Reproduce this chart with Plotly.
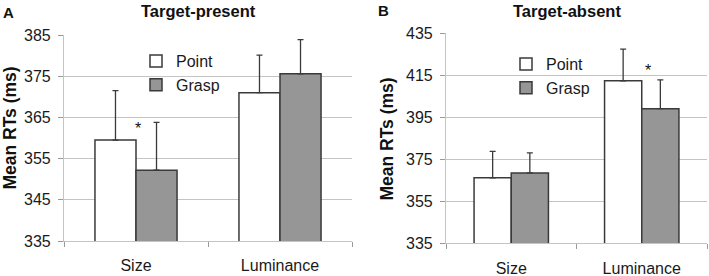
import plotly.graph_objects as go

# ---- data ----
categories = ["Size", "Luminance"]
series_names = ["Point", "Grasp"]
present_point = [359.5, 371.0]
present_point_err = [12.0, 9.1]
present_grasp = [352.2, 375.6]
present_grasp_err = [11.6, 8.3]
absent_point = [366.2, 412.4]
absent_point_err = [12.6, 15.1]
absent_grasp = [368.5, 399.1]
absent_grasp_err = [9.6, 13.7]
present_ticks = [335, 345, 355, 365, 375, 385]
absent_ticks = [335, 355, 375, 395, 415, 435]
present_sig = [("Size", 362.3)]
absent_sig = [("Luminance", 417.2)]

# ---- style ----
W, H = 709, 276
FONT = "Liberation Sans, Arial, sans-serif"
EDGE = "#3a3a3a"
GRID = "#c4c4c4"
FILLS = ["#ffffff", "#969696"]


def px_x(p):
    return p / W


def px_y(p):
    return (H - p) / H


fig = go.Figure()

panels = [
    ("x", "y", "legend", [present_point, present_grasp], [present_point_err, present_grasp_err]),
    ("x2", "y2", "legend2", [absent_point, absent_grasp], [absent_point_err, absent_grasp_err]),
]
for xa, ya, lg, vals, errs in panels:
    for name, v, e, fill in zip(series_names, vals, errs, FILLS):
        fig.add_trace(go.Bar(
            x=categories, y=v, name=name, xaxis=xa, yaxis=ya, legend=lg,
            marker=dict(color=fill, line=dict(color=EDGE, width=1.5)),
            error_y=dict(type="data", symmetric=False, array=e,
                         arrayminus=[0] * len(e), color=EDGE,
                         thickness=1.3, width=3),
        ))

axis_common = dict(
    showline=True, linecolor=GRID, linewidth=1.2, automargin=False,
    tickfont=dict(family=FONT, size=16, color="#1a1a1a"),
    ticks="outside", tickcolor="#9a9a9a", ticklen=5, tickwidth=1.2,
    zeroline=False,
)

fig.update_layout(
    width=W, height=H,
    margin=dict(l=0, r=0, t=0, b=0, autoexpand=False),
    paper_bgcolor="white", plot_bgcolor="white",
    barmode="group", bargap=0.43, bargroupgap=0,
    font=dict(family=FONT, size=16, color="#1a1a1a"),
    xaxis=dict(domain=[px_x(64), px_x(352)], anchor="y", range=[-0.5, 1.5],
               tickson="boundaries", showgrid=False, ticklabelstandoff=10,
               **axis_common),
    yaxis=dict(domain=[px_y(241), px_y(35)], anchor="x", range=[335, 385],
               tickvals=present_ticks, showgrid=True, gridcolor=GRID,
               gridwidth=1.2, ticklabelstandoff=4, **axis_common),
    xaxis2=dict(domain=[px_x(446), px_x(707)], anchor="y2", range=[-0.5, 1.5],
                tickson="boundaries", showgrid=False, ticklabelstandoff=10,
                **axis_common),
    yaxis2=dict(domain=[px_y(243.3), px_y(33.3)], anchor="x2", range=[335, 435],
                tickvals=absent_ticks, showgrid=True, gridcolor=GRID,
                gridwidth=1.2, ticklabelstandoff=4, **axis_common),
    legend=dict(x=px_x(136), y=px_y(44), xanchor="left", yanchor="top",
                bgcolor="rgba(0,0,0,0)", font=dict(family=FONT, size=16),
                itemwidth=30, tracegroupgap=0),
    legend2=dict(x=px_x(506), y=px_y(47), xanchor="left", yanchor="top",
                 bgcolor="rgba(0,0,0,0)", font=dict(family=FONT, size=16),
                 itemwidth=30, tracegroupgap=0),
    showlegend=True,
)

annotations = [
    dict(text="<b>A</b>", x=px_x(8), y=px_y(12.5), font=dict(size=15)),
    dict(text="<b>B</b>", x=px_x(383), y=px_y(10.5), font=dict(size=15)),
    dict(text="<b>Target-present</b>", x=px_x(198), y=px_y(11), font=dict(size=16.5)),
    dict(text="<b>Target-absent</b>", x=px_x(567), y=px_y(11), font=dict(size=16.5)),
    dict(text="<b>Mean RTs (ms)</b>", x=px_x(9), y=px_y(128.5), textangle=-90,
         font=dict(size=17.5)),
    dict(text="<b>Mean RTs (ms)</b>", x=px_x(386), y=px_y(139.5), textangle=-90,
         font=dict(size=17.5)),
]
for a in annotations:
    a.update(xref="paper", yref="paper", showarrow=False,
             xanchor="center", yanchor="middle")
    a["font"].update(family=FONT, color="#111111")
    fig.add_annotation(**a)

for cat, val in present_sig:
    fig.add_annotation(text="*", x=cat, y=val, xref="x", yref="y",
                       showarrow=False, xshift=2,
                       font=dict(family=FONT, size=16, color="#111111"))
for cat, val in absent_sig:
    fig.add_annotation(text="*", x=cat, y=val, xref="x2", yref="y2",
                       showarrow=False, xshift=6,
                       font=dict(family=FONT, size=16, color="#111111"))

fig.write_html(
    "out.html",
    config={"displayModeBar": False},
    post_script="document.documentElement.style.margin='0';"
                "document.body.style.margin='0';"
                "document.body.style.overflow='hidden';",
)
